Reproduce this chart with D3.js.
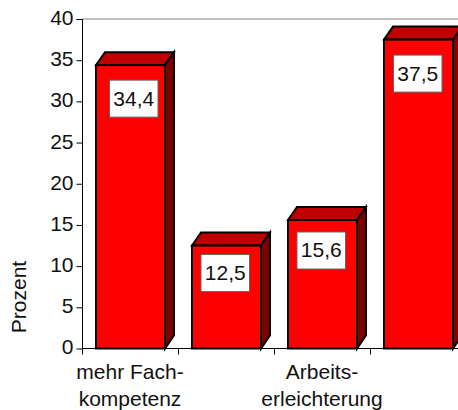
<!DOCTYPE html>
<html><head><meta charset="utf-8">
<script src="https://cdn.jsdelivr.net/npm/d3@7"></script>
<style>html,body{margin:0;padding:0;background:#fff;overflow:hidden}svg{display:block}text{font-family:"Liberation Sans",Arial,sans-serif;fill:#111}</style>
</head><body><svg id="c" width="458" height="410"></svg>
<script>
const categories = ["mehr Fach-|kompetenz", "", "Arbeits-|erleichterung", ""];
const values = [34.4, 12.5, 15.6, 37.5];
const valueLabels = ["34,4", "12,5", "15,6", "37,5"];
const yTicks = [0, 5, 10, 15, 20, 25, 30, 35, 40];
const yTitle = "Prozent";

const svg = d3.select("#c");
const x0 = 82.5, yBase = 348.5, yTop = 19;
const y = d3.scaleLinear().domain([0, 40]).range([yBase, yTop]);
const x = d3.scaleBand().domain(d3.range(4)).range([x0, x0 + 384]);
const barW = 69, dx = 9, dy = 13;
const boxDx = [13.5, 9, 9, 9.5], boxDy = [15, 9, 12, 15.5];
const boxW = 48.5, boxH = 37;
const fs = 21;

svg.append("line").attr("x1", x0).attr("x2", 458).attr("y1", yTop).attr("y2", yTop).attr("stroke", "#808080").attr("stroke-width", 1);

const yAxis = d3.axisLeft(y).tickValues(yTicks).tickSize(6).tickPadding(3);
const gy = svg.append("g").attr("transform", `translate(${x0},0)`).call(yAxis);
gy.select(".domain").attr("stroke", "#000").attr("d", `M0,${yTop}V${yBase}`);
gy.selectAll("line").attr("stroke", "#000");
gy.selectAll("text").attr("font-size", fs).attr("fill", "#111").attr("dy", "0.26em");

const gx = svg.append("g").attr("transform", `translate(0,${yBase})`);
gx.append("line").attr("x1", x0).attr("x2", 458).attr("stroke", "#000");
gx.selectAll("line.t").data(d3.range(0, 4)).join("line").attr("class", "t")
  .attr("x1", d => x(d)).attr("x2", d => x(d)).attr("y1", 0).attr("y2", 6).attr("stroke", "#000");

const bars = svg.append("g").selectAll("g").data(values).join("g");
const bx = i => x(i) + (x.bandwidth() - barW) / 2;
bars.append("path").attr("fill", "#c00000").attr("stroke", "#000").attr("stroke-width", 2).attr("stroke-linejoin", "miter")
  .attr("d", (d, i) => { const l = bx(i), t = y(d); return `M${l},${t}l${dx},${-dy}h${barW}l${-dx},${dy}z`; });
bars.append("path").attr("fill", "#800000").attr("stroke", "#000").attr("stroke-width", 2)
  .attr("d", (d, i) => { const r = bx(i) + barW, t = y(d); return `M${r},${t}l${dx},${-dy}V${yBase - dy}L${r},${yBase}z`; });
bars.append("rect").attr("fill", "#ff0000").attr("stroke", "#000").attr("stroke-width", 2)
  .attr("x", (d, i) => bx(i)).attr("y", d => y(d)).attr("width", barW).attr("height", d => yBase - y(d));
bars.append("rect").attr("fill", "#fff").attr("stroke", "#666").attr("stroke-width", 1)
  .attr("x", (d, i) => bx(i) + boxDx[i]).attr("y", (d, i) => y(d) + boxDy[i]).attr("width", boxW).attr("height", boxH);
bars.append("text").attr("font-size", fs).attr("text-anchor", "middle")
  .attr("x", (d, i) => bx(i) + boxDx[i] + boxW / 2).attr("y", (d, i) => y(d) + boxDy[i] + boxH / 2 + 7)
  .text((d, i) => valueLabels[i]);

categories.forEach((c, i) => {
  c.split("|").forEach((line, j) => {
    if (line) svg.append("text").attr("font-size", fs).attr("text-anchor", "middle")
      .attr("x", x(i) + x.bandwidth() / 2 - 0.5).attr("y", 379 + j * 27).text(line);
  });
});
svg.append("text").attr("font-size", fs).attr("text-anchor", "middle")
  .attr("transform", "translate(26,297) rotate(-90)").text(yTitle);
</script></body></html>
